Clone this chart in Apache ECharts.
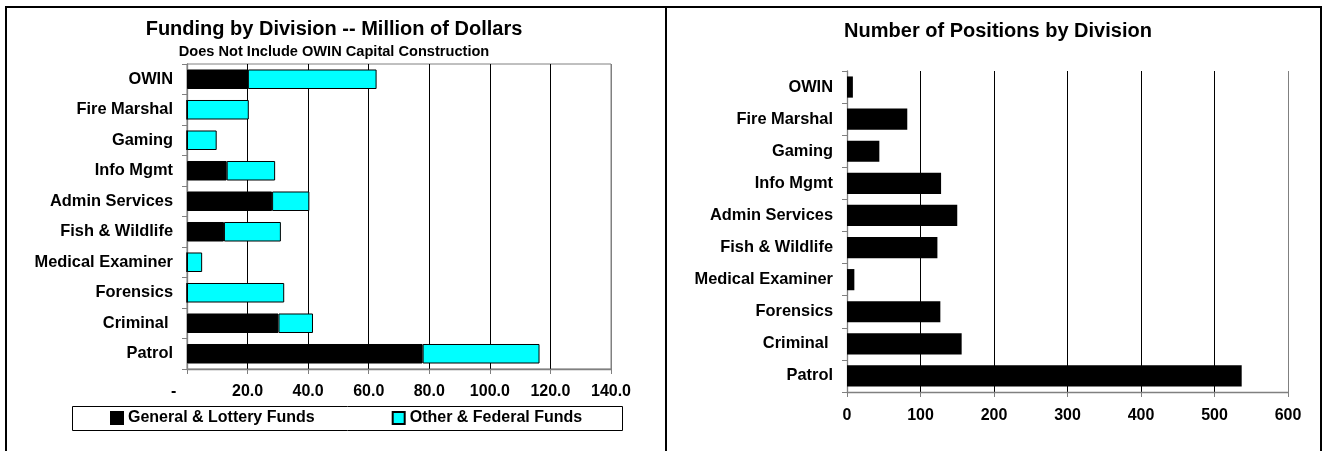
<!DOCTYPE html>
<html>
<head>
<meta charset="utf-8">
<title>Funding and Positions by Division</title>
<script src="https://cdn.jsdelivr.net/npm/echarts@6/dist/echarts.min.js"></script>
<style>
  html, body { margin: 0; padding: 0; background: #fff; }
  #chart { width: 1328px; height: 451px; }
</style>
</head>
<body>
<div id="chart"></div>
<script>
// Divisions, listed top to bottom
const divisions = ['OWIN', 'Fire Marshal', 'Gaming', 'Info Mgmt', 'Admin Services',
  'Fish & Wildlife', 'Medical Examiner', 'Forensics', 'Criminal ', 'Patrol'];

// Funding, million of dollars
const generalLotteryFunds = [20.1, 0, 0, 13.1, 28.1, 12.2, 0, 0, 30.2, 77.8];
const otherFederalFunds   = [42.5, 20.4, 9.8, 16.0, 12.3, 18.8, 5.0, 32.1, 11.4, 38.6];

// Number of positions
const positions = [8, 82, 44, 128, 150, 123, 10, 127, 156, 537];

// Axis ticks
const fundingTicks = [0, 20, 40, 60, 80, 100, 120, 140];
const positionTicks = [0, 100, 200, 300, 400, 500, 600];

const FONT = '"Liberation Sans", Arial, Helvetica, sans-serif';
const GRAY = '#808080';

const chart = echarts.init(document.getElementById('chart'), null, { renderer: 'canvas' });

function splitColors(n) {
  const c = [];
  for (let i = 0; i < n; i++) c.push(i === 0 || i === n - 1 ? GRAY : '#000');
  return c;
}

const catAxisCommon = {
  type: 'category',
  data: divisions,
  inverse: true,
  axisLine: { show: true, lineStyle: { color: GRAY, width: 1.3 } },
  axisTick: { show: true, length: 5, lineStyle: { color: GRAY } },
  axisLabel: { margin: 14, color: '#000', fontFamily: FONT, fontWeight: 'bold', fontSize: 16.4 },
  splitLine: { show: false }
};

function textEl(text, x, y, size) {
  return {
    type: 'text',
    silent: true,
    style: {
      text: text, x: x, y: y,
      fill: '#000',
      font: 'bold ' + size + 'px ' + FONT,
      align: 'center', verticalAlign: 'middle'
    }
  };
}

function vLine(x, y1, y2, w) {
  return { type: 'line', silent: true, shape: { x1: x, y1: y1, x2: x, y2: y2 },
    style: { stroke: '#000', lineWidth: w } };
}

const option = {
  animation: false,
  backgroundColor: '#fff',
  textStyle: { fontFamily: FONT },
  grid: [
    { left: 187, top: 64, width: 424, height: 305, show: true,
      borderColor: GRAY, borderWidth: 1, backgroundColor: 'transparent' },
    { left: 847, top: 71, width: 441, height: 321 }
  ],
  xAxis: [
    {
      gridIndex: 0, type: 'value',
      min: fundingTicks[0], max: fundingTicks[fundingTicks.length - 1],
      interval: fundingTicks[1] - fundingTicks[0],
      axisLine: { show: true, lineStyle: { color: GRAY, width: 1.3 } },
      axisTick: { show: true, length: 5, lineStyle: { color: GRAY } },
      axisLabel: {
        margin: 15, color: '#000', fontFamily: FONT, fontWeight: 'bold', fontSize: 16,
        formatter: function (v) { return v === 0 ? '-      ' : v.toFixed(1); }
      },
      splitLine: { show: true, lineStyle: { color: splitColors(fundingTicks.length), width: 1 } }
    },
    {
      gridIndex: 1, type: 'value',
      min: positionTicks[0], max: positionTicks[positionTicks.length - 1],
      interval: positionTicks[1] - positionTicks[0],
      axisLine: { show: true, lineStyle: { color: GRAY, width: 1.3 } },
      axisTick: { show: true, length: 5, lineStyle: { color: GRAY } },
      axisLabel: { margin: 16, color: '#000', fontFamily: FONT, fontWeight: 'bold', fontSize: 16 },
      splitLine: { show: true, lineStyle: { color: splitColors(positionTicks.length), width: 1 } }
    }
  ],
  yAxis: [
    Object.assign({ gridIndex: 0 }, catAxisCommon),
    Object.assign({ gridIndex: 1 }, catAxisCommon)
  ],
  legend: {
    data: ['General & Lottery Funds', 'Other & Federal Funds'],
    left: 110, top: 410, padding: 0,
    itemWidth: 12, itemHeight: 12, itemGap: 77,
    icon: 'rect',
    textStyle: { color: '#000', fontFamily: FONT, fontWeight: 'bold', fontSize: 16 }
  },
  series: [
    {
      name: 'General & Lottery Funds', type: 'bar', stack: 'funds',
      xAxisIndex: 0, yAxisIndex: 0, barCategoryGap: '36%',
      itemStyle: { color: '#000', borderColor: '#000', borderWidth: 1 },
      data: generalLotteryFunds
    },
    {
      name: 'Other & Federal Funds', type: 'bar', stack: 'funds',
      xAxisIndex: 0, yAxisIndex: 0, barCategoryGap: '36%',
      itemStyle: { color: '#00FFFF', borderColor: '#000', borderWidth: 1 },
      data: otherFederalFunds
    },
    {
      name: 'Positions', type: 'bar',
      xAxisIndex: 1, yAxisIndex: 1, barCategoryGap: '34%',
      itemStyle: { color: '#000' },
      data: positions
    }
  ],
  graphic: [
    // panel frames
    { type: 'line', silent: true, shape: { x1: 5, y1: 7, x2: 1322, y2: 7 },
      style: { stroke: '#000', lineWidth: 2 } },
    vLine(6, 6, 451, 2),
    vLine(666, 6, 451, 2),
    vLine(1321, 6, 451, 2),
    // legend frame
    { type: 'rect', silent: true, z: -1, shape: { x: 72.5, y: 406.5, width: 550, height: 24 },
      style: { fill: '#fff', stroke: '#000', lineWidth: 1 } },
    // titles
    textEl('Funding by Division -- Million of Dollars', 334, 29, 20),
    textEl('Does Not Include OWIN Capital Construction', 334, 52, 14.6),
    textEl('Number of Positions by Division', 998, 31, 20)
  ]
};

chart.setOption(option);
</script>
</body>
</html>
